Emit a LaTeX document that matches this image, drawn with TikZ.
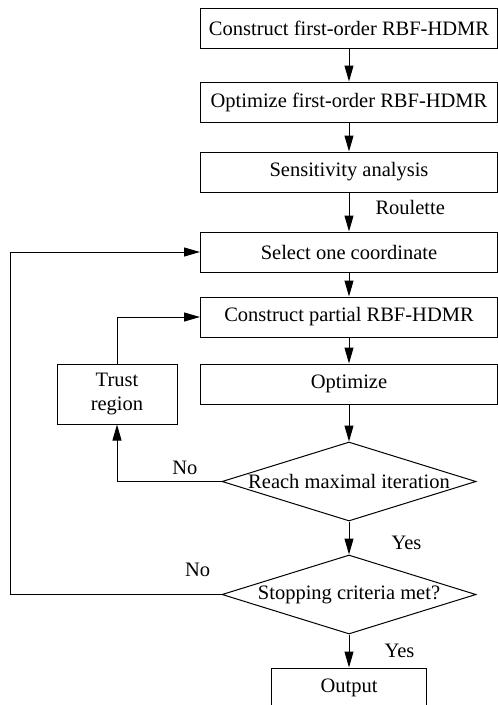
\documentclass[tikz,border=0pt]{standalone}
\usepackage{fontspec}
\setmainfont{Liberation Serif}
\usepackage{tikz}
\usetikzlibrary{shapes.geometric}
\usetikzlibrary{arrows.meta}
\usetikzlibrary{positioning}
\tikzstyle{stepbox} = [draw=black, rectangle, minimum width=297pt, minimum height=40pt, inner sep=4pt]
\tikzstyle{decision} = [draw=black, diamond, aspect=3.2, inner xsep=-14pt, inner ysep=0pt, minimum width=254pt, minimum height=79pt]
\tikzstyle{flow} = [draw, -{Triangle[length=16pt, width=9pt]}]
\tikzstyle{lbl} = [inner sep=0pt]

\begin{document}
\begin{tikzpicture}[
            x=1pt, y=-1pt,
            every node/.style={font=\fontsize{20.5}{24}\selectfont},
            line width=1pt
        ]
            \useasboundingbox (0,0) rectangle (498,705);
            \node [stepbox] (first) at (349,28) {Construct first-order RBF-HDMR};
            \node [stepbox, below of=first, node distance=74pt] (optfirst) {Optimize first-order RBF-HDMR};
            \node [stepbox, below of=optfirst, node distance=70pt] (sens) {Sensitivity analysis};
            \node [stepbox, below of=sens, node distance=80pt] (select) {Select one coordinate};
            \node [stepbox, below of=select, node distance=65pt] (partial) {Construct partial RBF-HDMR};
            \node [stepbox, below of=partial, node distance=67pt] (optimize) {Optimize};
            \node [decision, below of=optimize, node distance=97.5pt] (maxiter) {Reach maximal iteration};
            \node [decision, below of=maxiter, node distance=113pt] (stop) {Stopping criteria met?};
            \node [stepbox, minimum width=155pt, below of=stop, node distance=93.5pt] (output) {Output};
            \node [stepbox, minimum width=120pt, minimum height=60pt, align=center] (trust) at (117,394) {Trust\\region};
            \coordinate (back) at (10,594.5);
            \path [flow] (first) -- (optfirst);
            \path [flow] (optfirst) -- (sens);
            \path [flow] (sens) -- node [lbl, pos=0.375, right=26pt] (roulette) {Roulette} (select);
            \path [flow] (select) -- (partial);
            \path [flow] (partial) -- (optimize);
            \path [flow] (optimize) -- (maxiter);
            \path [flow] (maxiter) -- node [lbl, pos=0.65, right=42pt] (yes1) {Yes} (stop);
            \path [flow] (stop) -- node [lbl, pos=0.5, right=35pt] (yes2) {Yes} (output);
            \path [flow] (maxiter.west) -| node [lbl, pos=0.175, above=6pt] (no1) {No} (trust.south);
            \path [flow] (trust.north) |- (partial.west);
            \path [flow] (stop.west) -- node [lbl, pos=0.113, above=17pt] (no2) {No} (back) |- (select.west);
        \end{tikzpicture}
\end{document}
